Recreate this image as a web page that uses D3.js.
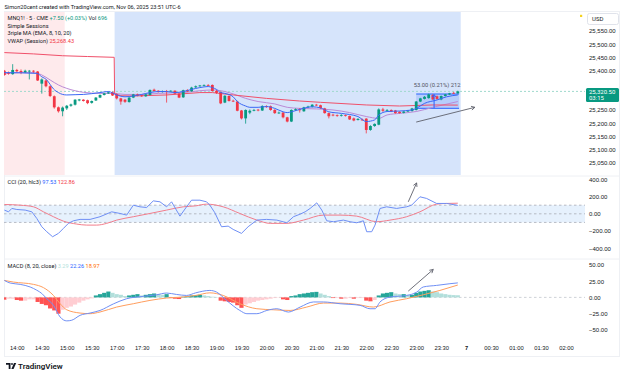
<!DOCTYPE html>
<html>
<head>
<meta charset="utf-8">
<script src="https://cdn.jsdelivr.net/npm/d3@7"></script>
<style>
body { margin: 0; background: #fff; }
svg { display: block; font-family: Roboto, "Liberation Sans", sans-serif; }
</style>
</head>
<body>
<svg id="chart" width="625" height="381"></svg>
<script>
// bar index 0 = 13:45, one bar every 5 minutes, no bars from 16:00 to 16:55
var timeTicks = [3, 9, 15, 21, 27, 33, 39, 45, 51, 57, 63, 69, 75, 81, 87, 93, 99, 105, 111, 117, 123, 129, 135];
var timeLabels = ["14:00", "14:30", "15:00", "15:30", "17:00", "17:30", "18:00", "18:30", "19:00", "19:30", "20:00",
    "20:30", "21:00", "21:30", "22:00", "22:30", "23:00", "23:30", "7", "00:30", "01:00", "01:30", "02:00"];

var open = [25399, 25392, 25386, 25402, 25398, 25393, 25397, 25399, 25396, 25350,
    25362, 25340, 25302, 25260, 25245, 25256, 25266, 25270, 25286, 25289,
    25287, 25277, 25286, 25297, 25307, 25313, 25317, 25309, 25294, 25289,
    25280, 25297, 25309, 25305, 25302, 25307, 25327, 25323, 25318, 25321,
    25320, 25323, 25312, 25298, 25325, 25321, 25336, 25340, 25343, 25345,
    25345, 25322, 25318, 25278, 25303, 25285, 25282, 25248, 25218, 25240,
    25248, 25251, 25248, 25264, 25264, 25250, 25238, 25240, 25222, 25206,
    25250, 25252, 25245, 25260, 25262, 25270, 25268, 25256, 25238, 25232,
    25230, 25228, 25230, 25227, 25218, 25212, 25214, 25217, 25174, 25189,
    25194, 25252, 25248, 25250, 25248, 25243, 25239, 25244, 25246, 25250,
    25282, 25292, 25295, 25307, 25302, 25290, 25303, 25309, 25315, 25313];
var high = [25402, 25396, 25424, 25406, 25404, 25403, 25402, 25401, 25398, 25370,
    25366, 25343, 25305, 25263, 25263, 25269, 25274, 25291, 25292, 25291,
    25289, 25286, 25299, 25309, 25315, 25319, 25320, 25313, 25296, 25292,
    25299, 25311, 25312, 25308, 25311, 25328, 25331, 25325, 25324, 25326,
    25325, 25325, 25314, 25327, 25329, 25338, 25343, 25345, 25347, 25348,
    25347, 25326, 25320, 25306, 25306, 25289, 25285, 25250, 25252, 25252,
    25254, 25254, 25268, 25268, 25267, 25253, 25244, 25242, 25224, 25252,
    25256, 25257, 25262, 25266, 25272, 25273, 25270, 25258, 25240, 25236,
    25233, 25234, 25233, 25229, 25221, 25219, 25218, 25219, 25192, 25199,
    25256, 25258, 25253, 25252, 25250, 25245, 25246, 25250, 25258, 25284,
    25296, 25303, 25312, 25310, 25305, 25305, 25311, 25315, 25319, 25323];
var low = [25380, 25384, 25384, 25393, 25386, 25390, 25366, 25391, 25360, 25312,
    25336, 25299, 25255, 25240, 25226, 25250, 25262, 25267, 25283, 25282,
    25272, 25274, 25284, 25295, 25305, 25311, 25303, 25290, 25270, 25277,
    25278, 25295, 25302, 25300, 25300, 25305, 25320, 25316, 25316, 25278,
    25318, 25310, 25295, 25296, 25318, 25319, 25333, 25338, 25340, 25341,
    25320, 25311, 25272, 25276, 25282, 25280, 25245, 25214, 25198, 25234,
    25245, 25245, 25246, 25258, 25247, 25235, 25235, 25218, 25203, 25204,
    25246, 25240, 25243, 25257, 25259, 25265, 25254, 25236, 25218, 25226,
    25224, 25225, 25225, 25212, 25207, 25210, 25208, 25161, 25171, 25186,
    25192, 25243, 25245, 25242, 25236, 25236, 25237, 25242, 25244, 25248,
    25280, 25290, 25293, 25288, 25289, 25287, 25301, 25307, 25311, 25312];
var close = [25383, 25388, 25402, 25397, 25393, 25399, 25399, 25396, 25362, 25366,
    25340, 25303, 25260, 25245, 25259, 25266, 25271, 25289, 25290, 25284,
    25276, 25284, 25297, 25307, 25313, 25317, 25305, 25294, 25282, 25281,
    25297, 25309, 25304, 25302, 25309, 25326, 25322, 25318, 25322, 25320,
    25323, 25312, 25297, 25325, 25320, 25335, 25340, 25343, 25345, 25343,
    25322, 25315, 25275, 25304, 25284, 25283, 25247, 25218, 25250, 25247,
    25250, 25248, 25265, 25262, 25250, 25238, 25240, 25222, 25206, 25250,
    25253, 25249, 25260, 25263, 25270, 25268, 25257, 25238, 25226, 25230,
    25228, 25231, 25228, 25214, 25210, 25216, 25212, 25174, 25189, 25197,
    25252, 25247, 25250, 25244, 25238, 25238, 25244, 25248, 25256, 25282,
    25294, 25300, 25309, 25290, 25292, 25303, 25309, 25313, 25313, 25320.5];

// overlays as [bar index, value]
var emaFast = [[0, 25392], [7.8, 25389], [9, 25376], [10.2, 25364], [11, 25347], [11.8, 25330], [13, 25316], [14, 25309],
    [15, 25307], [17, 25308], [19, 25309], [21, 25312], [23, 25316], [25, 25320], [27, 25307], [29, 25300], [31, 25303],
    [33, 25309], [35, 25316], [37, 25320], [39, 25320], [41, 25316], [43, 25320], [45, 25328], [47, 25335], [49, 25339],
    [50, 25335], [51, 25328], [52, 25316], [53, 25313], [55, 25300], [56, 25282], [58, 25265], [59, 25260], [61, 25260],
    [63, 25263], [65, 25256], [67, 25243], [68, 25240], [69, 25243], [71, 25252], [74, 25262], [76, 25258], [78, 25243],
    [81, 25237], [85, 25225], [87, 25206], [89, 25212], [90, 25231], [92, 25244], [95, 25246], [98, 25250], [99, 25256],
    [101, 25275], [104, 25288], [106.3, 25300], [109, 25307]];
var emaSlow = [[0, 25387], [3.8, 25392], [7, 25392], [9, 25383], [11, 25364], [13, 25345], [15, 25332], [17, 25323],
    [19, 25317], [23, 25313], [26, 25313], [29, 25309], [33, 25309], [37, 25313], [43, 25316], [47, 25323], [50, 25326],
    [53, 25320], [55, 25311], [58, 25294], [61, 25282], [65, 25273], [68, 25260], [71, 25256], [75, 25254], [79, 25250],
    [83, 25240], [87, 25225], [90, 25218], [92, 25231], [95, 25237], [99, 25244], [103, 25260], [109, 25282]];
var vwap = [[0, 25468], [7, 25463], [14, 25456], [20, 25453], [26.4, 25450], [26.5, 25312], [28, 25304], [31, 25303],
    [39, 25307], [47, 25316], [50, 25316], [55, 25307], [63, 25294], [71, 25284], [76, 25279], [87, 25269],
    [95, 25265], [103, 25269], [109, 25268.43]];

var cci = [[0, 43], [1, 23], [1.8, 62], [3, 50], [5, 43], [6.6, 23], [7.8, -54], [9, -150], [10.2, -208], [11.6, -266],
    [13, -227], [14.2, -169], [15.4, -111], [16.6, -81], [18.2, -65], [20.6, -65], [23, -34], [25.8, 23], [27.8, 4],
    [29.4, -15], [31, 100], [32.6, 81], [34.2, 73], [35.8, 150], [37.4, 139], [39, 81], [40.2, 139], [42.2, -27],
    [43.8, 81], [45, 158], [47, 158], [48.6, 139], [49.4, 100], [50.6, 12], [52.2, -150], [53.8, -143], [55, -181],
    [57, -227], [58.6, -150], [60.7, -73], [63, -65], [65.5, -73], [67.9, -104], [69.5, -34], [71.1, -4], [72.3, 23],
    [73.5, 62], [75.1, 127], [76.3, 43], [77.5, -81], [79.1, -92], [81.5, -73], [83.1, -92], [84.7, -104], [86.3, -81],
    [87.1, -208], [88.3, -208], [89.1, -131], [90.3, 62], [91.9, 81], [94.3, 62], [96.7, 81], [97.9, 100], [99.9, 197],
    [101.5, 178], [103.9, 120], [106.3, 120], [109, 97.53]];
var cciMa = [[0, 108], [3.8, 100], [7, 81], [9.4, 23], [11.8, -34], [14.2, -85], [17.4, -119], [19.8, -131], [22.2, -131],
    [24.6, -111], [27, -73], [31, -34], [35, 4], [39, 43], [43, 81], [46, 92], [48.6, 112], [52.6, 81], [56.6, 4],
    [60.7, -73], [63.9, -111], [67.9, -111], [71.9, -73], [76.7, -15], [80.7, -15], [84.7, -27], [89.5, -92], [92.7, -73],
    [96.7, -34], [99.9, 23], [103.9, 112], [106.3, 120], [109, 122.86]];

var macd = [[0, 26], [1.4, 22], [3.8, 20], [6.2, 16], [7.8, 11], [9, 6], [10.2, -2], [11.8, -12], [13.4, -30], [15, -36],
    [16.2, -35], [18.2, -27.5], [20.6, -24], [23, -20], [26.2, -10], [29.4, -2], [33.4, 1.6], [36.6, 4], [39, 6.7],
    [41.4, 4.5], [43.8, 3], [46, 7], [49.4, 10.7], [51, 8.2], [53.4, -4.6], [56.6, -20], [58.3, -25], [60.7, -25],
    [63.1, -20], [65.5, -17.4], [68.3, -22.5], [71.1, -14.8], [74.3, -7], [76.7, -7], [80.7, -9.7], [85.5, -12.2],
    [87.9, -17.4], [89.1, -17.4], [90.3, -7], [92.7, 0.5], [96.7, 3], [99.1, 8], [100.7, 16], [103.9, 18.4], [107.1, 21],
    [109, 22.26]];
var signal = [[0, 26], [2.2, 23.5], [7, 20], [9.4, 15], [11.8, 3], [13.4, -9.7], [15, -19], [18.2, -24], [20.6, -25],
    [23, -22.4], [27, -14.8], [31, -9.7], [35, -4.6], [39, -1], [43, 0.6], [46, 3], [49.4, 7], [52.6, 3], [56.6, -9.7],
    [60.7, -17.4], [64.7, -19], [68.7, -20], [72.7, -14.8], [76.7, -8.7], [80.7, -8.7], [84.7, -10.7], [88.7, -14.8],
    [92.7, -7], [96.7, -2], [100.7, 4], [104.7, 10.7], [109, 18.97]];
var hist = [-3.5, -2, -2, -4, -5, -5, -3, -3, -7, -10,
    -12, -17, -20, -25, -19, -16, -14, -11, -8, -5,
    -3, -1.5, 3, 5, 7, 9, 7, 5, 4, 2,
    3, 4, 5, 3, 4, 5, 6, 5, 4, 5,
    -1, -2, -2.5, 1, 2, 3, 3.5, 4, 3, 2,
    1, 0.5, -5, -6, -7, -8, -12, -16, -11, -9,
    -7, -5, -4, -3, -2, -1, -0.5, -3, -4, 2,
    3, 5, 6, 7, 8, 8.5, 6, 4, 2, -1,
    -1, -2, -2, -1, -2, -1, -1, -5, -6, -4,
    3, 6, 7, 8, 6, 5, 5, 4, 4, 7,
    9, 10, 11, 9, 8, 6, 5, 4, 3.5, 3.29];

var priceTicks = [25050, 25100, 25150, 25200, 25250, 25300, 25350, 25400, 25450, 25500, 25550];
var cciTicks = [-400, -200, 0, 200, 400];
var macdTicks = [-50, -25, 0, 25, 50];

// sessions as [first bar edge, last bar edge]
var sessions = [[-0.5, 14.5, "#feeaec"], [26.5, 109.7, "#d6e4fb"]];

// drawings: price range box and the three arrows
var rangeBox = { from: 99, to: 109.3, lo: 25256.3, hi: 25310.6, mid: 103.3 };
var priceArrow = [[99, 25204], [113.1, 25260]];
var cciArrow = [[97.1, 139], [99.1, 358]];
var macdArrow = [[97.1, 9.7], [103.1, 42.9]];

var lastPrice = 25320.5;

var svg = d3.select("svg#chart"),
    up = "#089981",
    down = "#F23645",
    left = 4, right = 585;

var x = d3.scaleLinear().domain([0, 135]).range([4.36, 4.36 + 135 * 4.16]);
var y = d3.scaleLinear().domain([25050, 25550]).range([162.6, 31]);
var yCci = d3.scaleLinear().domain([-400, 400]).range([248.3, 179.3]);
var yMacd = d3.scaleLinear().domain([-50, 50]).range([330, 264.8]);

svg.append("defs").append("clipPath").attr("id", "clip")
    .append("rect").attr("x", left).attr("y", 0).attr("width", right - left).attr("height", 381);

// frame and header
svg.append("rect").attr("x", 4.5).attr("y", 11.5).attr("width", 615).attr("height", 345)
    .attr("fill", "none").attr("stroke", "#eef0f4");
[176, 259].forEach(function (v) {
    svg.append("line").attr("x1", 4).attr("x2", 620).attr("y1", v).attr("y2", v).attr("stroke", "#eef0f4");
});
svg.append("text").attr("x", 4.5).attr("y", 9).style("font-size", "5.6px").attr("fill", "#131722")
    .text("Simon20cent created with TradingView.com, Nov 06, 2025 23:51 UTC-6");

var plot = svg.append("g").attr("clip-path", "url(#clip)");

// session backgrounds
plot.selectAll(".session").data(sessions).enter().append("rect")
    .attr("x", function (d) { return x(d[0]); })
    .attr("width", function (d) { return x(d[1]) - x(d[0]); })
    .attr("y", 12).attr("height", 163)
    .attr("fill", function (d) { return d[2]; });

// price range box
plot.append("rect")
    .attr("x", x(rangeBox.from)).attr("width", x(rangeBox.to) - x(rangeBox.from))
    .attr("y", y(rangeBox.hi)).attr("height", y(rangeBox.lo) - y(rangeBox.hi))
    .attr("fill", "rgba(41,98,255,0.18)");
[rangeBox.lo, rangeBox.hi].forEach(function (v) {
    plot.append("line").attr("x1", x(rangeBox.from)).attr("x2", x(rangeBox.to))
        .attr("y1", y(v)).attr("y2", y(v)).attr("stroke", "#2962FF").attr("stroke-width", 1);
});

// last price line
plot.append("line").attr("x1", left).attr("x2", right).attr("y1", y(lastPrice)).attr("y2", y(lastPrice))
    .attr("stroke", "#9fd9cd").attr("stroke-dasharray", "2,2");

var bars = close.map(function (c, i) { return { i: i, o: open[i], h: high[i], l: low[i], c: c }; });

var lineFor = function (ys, curve) {
    return d3.line().x(function (d) { return x(d[0]); }).y(function (d) { return ys(d[1]); }).curve(curve || d3.curveMonotoneX);
};

plot.append("path").datum(emaSlow).attr("d", lineFor(y)).attr("fill", "none").attr("stroke", "#bb8ad6").attr("stroke-width", 1);
plot.append("path").datum(vwap).attr("d", lineFor(y, d3.curveLinear)).attr("fill", "none").attr("stroke", "#f0506a").attr("stroke-width", 1);

plot.selectAll(".wick").data(bars).enter().append("line")
    .attr("x1", function (d) { return x(d.i); })
    .attr("x2", function (d) { return x(d.i); })
    .attr("y1", function (d) { return y(d.h); })
    .attr("y2", function (d) { return y(d.l); })
    .attr("stroke", function (d) { return d.c >= d.o ? up : down; })
    .attr("stroke-width", 0.8);

plot.selectAll(".body").data(bars).enter().append("rect")
    .attr("x", function (d) { return x(d.i) - 1.4; })
    .attr("width", 2.8)
    .attr("y", function (d) { return y(Math.max(d.o, d.c)); })
    .attr("height", function (d) { return Math.max(0.8, Math.abs(y(d.o) - y(d.c))); })
    .attr("fill", function (d) { return d.c >= d.o ? up : down; });

plot.append("path").datum(emaFast).attr("d", lineFor(y)).attr("fill", "none").attr("stroke", "#3a67f5").attr("stroke-width", 1);

// range arrow and label
plot.append("line").attr("x1", x(rangeBox.mid)).attr("x2", x(rangeBox.mid))
    .attr("y1", y(rangeBox.lo)).attr("y2", y(rangeBox.hi) + 1).attr("stroke", "#2962FF");
plot.append("path")
    .attr("d", "M" + (x(rangeBox.mid) - 2) + "," + (y(rangeBox.hi) + 3) + "L" + x(rangeBox.mid) + "," + (y(rangeBox.hi) + 0.5) +
        "L" + (x(rangeBox.mid) + 2) + "," + (y(rangeBox.hi) + 3))
    .attr("fill", "none").attr("stroke", "#2962FF");
svg.append("text").attr("x", x(rangeBox.mid) + 3).attr("y", y(rangeBox.hi) - 7)
    .attr("text-anchor", "middle").style("font-size", "5.8px").attr("fill", "#50535e")
    .text("53.00 (0.21%) 212");

function arrow(g, pts, ys) {
    var x1 = x(pts[0][0]), y1 = ys(pts[0][1]), x2 = x(pts[1][0]), y2 = ys(pts[1][1]);
    var a = Math.atan2(y2 - y1, x2 - x1), s = 4;
    g.append("line").attr("x1", x1).attr("y1", y1).attr("x2", x2).attr("y2", y2).attr("stroke", "#5d606b").attr("stroke-width", 0.9);
    g.append("path")
        .attr("d", "M" + (x2 - s * Math.cos(a - 0.5)) + "," + (y2 - s * Math.sin(a - 0.5)) + "L" + x2 + "," + y2 +
            "L" + (x2 - s * Math.cos(a + 0.5)) + "," + (y2 - s * Math.sin(a + 0.5)))
        .attr("fill", "none").attr("stroke", "#5d606b").attr("stroke-width", 0.9);
}
arrow(plot, priceArrow, y);

// CCI pane
plot.append("rect").attr("x", left).attr("width", right - left)
    .attr("y", yCci(100)).attr("height", yCci(-100) - yCci(100)).attr("fill", "#e6f1fd");
[100, 0, -100].forEach(function (v) {
    plot.append("line").attr("x1", left).attr("x2", right).attr("y1", yCci(v)).attr("y2", yCci(v))
        .attr("stroke", "#a9acb6").attr("stroke-dasharray", "2.5,2.5").attr("stroke-width", 0.8);
});
plot.append("path").datum(cciMa).attr("d", lineFor(yCci)).attr("fill", "none").attr("stroke", "#f27d8c").attr("stroke-width", 1);
plot.append("path").datum(cci).attr("d", lineFor(yCci, d3.curveLinear)).attr("fill", "none").attr("stroke", "#6f8ff5").attr("stroke-width", 1);
arrow(plot, cciArrow, yCci);

// MACD pane
plot.append("line").attr("x1", left).attr("x2", right).attr("y1", yMacd(0)).attr("y2", yMacd(0))
    .attr("stroke", "#c3c6ce").attr("stroke-dasharray", "2.5,2.5").attr("stroke-width", 0.8);
plot.selectAll(".hist").data(hist).enter().append("rect")
    .attr("x", function (d, i) { return x(i) - 2.08; })
    .attr("width", 4.16)
    .attr("y", function (d) { return yMacd(Math.max(0, d)); })
    .attr("height", function (d) { return Math.abs(yMacd(d) - yMacd(0)); })
    .attr("fill", function (d, i) {
        var prev = i > 0 ? hist[i - 1] : d + 1;
        if (d >= 0) return d >= prev ? "#26a69a" : "#b2dfdb";
        return d < prev ? "#ff5252" : "#ffcdd2";
    });
plot.append("path").datum(signal).attr("d", lineFor(yMacd)).attr("fill", "none").attr("stroke", "#ff9e5e").attr("stroke-width", 1);
plot.append("path").datum(macd).attr("d", lineFor(yMacd)).attr("fill", "none").attr("stroke", "#6f8ff5").attr("stroke-width", 1);
arrow(plot, macdArrow, yMacd);

// axes on the right
function rightAxis(scale, ticks, fmt) {
    var g = svg.append("g").attr("transform", "translate(589,0)")
        .call(d3.axisRight(scale).tickValues(ticks).tickSize(0).tickPadding(0).tickFormat(fmt));
    g.select(".domain").remove();
    g.selectAll("text").style("font-size", "6px").attr("fill", "#131722").attr("font-family", null);
    return g;
}
var minusFmt = function (v) { return d3.format(",.2f")(v).replace("-", "\u2212"); };
// the last price tag covers the tick next to it
rightAxis(y, priceTicks.filter(function (v) { return Math.abs(y(v) - y(lastPrice)) > 8; }), minusFmt);
rightAxis(yCci, cciTicks, minusFmt);
rightAxis(yMacd, macdTicks, minusFmt);

// time axis
var tx = svg.append("g").attr("transform", "translate(0,346)")
    .call(d3.axisBottom(x).tickValues(timeTicks).tickSize(0).tickPadding(0)
        .tickFormat(function (d, i) { return timeLabels[i]; }));
tx.select(".domain").remove();
tx.selectAll("text").style("font-size", "5.8px").attr("fill", "#131722").attr("font-family", null)
    .style("font-weight", function (d, i) { return timeLabels[i] === "7" ? "bold" : "normal"; });

// last price tag
svg.append("rect").attr("x", 586).attr("y", y(lastPrice) - 3.5).attr("width", 33).attr("height", 14)
    .attr("rx", 1.5).attr("fill", up);
svg.append("text").attr("x", 589).attr("y", y(lastPrice) + 2.4).style("font-size", "6px").attr("fill", "#fff").text("25,320.50");
svg.append("text").attr("x", 589).attr("y", y(lastPrice) + 8.6).style("font-size", "6px").attr("fill", "#fff").text("03:15");

// USD box and status dot
svg.append("rect").attr("x", 587.5).attr("y", 13.5).attr("width", 31).attr("height", 11).attr("rx", 2)
    .attr("fill", "#fff").attr("stroke", "#e0e3eb");
svg.append("text").attr("x", 592).attr("y", 21).style("font-size", "6px").attr("fill", "#131722").text("USD");
svg.append("rect").attr("x", 580).attr("y", 14.8).attr("width", 2.2).attr("height", 2.2).attr("fill", "#f5d31f");

// legends
function legend(yPos, parts) {
    var t = svg.append("text").attr("x", 7.5).attr("y", yPos).style("font-size", "5.6px");
    parts.forEach(function (p) {
        t.append("tspan").attr("fill", p[1]).text(p[0]);
    });
}
legend(20.3, [["MNQ1! \u00b7 5 \u00b7 CME ", "#131722"], ["+7.50 (+0.03%) ", up], [" Vol ", "#131722"], ["696", up]]);
legend(27.8, [["Simple Sessions", "#131722"]]);
legend(35.3, [["3riple MA (EMA, 8, 10, 20)", "#131722"]]);
legend(42.8, [["VWAP (Session) ", "#131722"], ["25,268.43", "#F23645"]]);
legend(183.7, [["CCI (20, hlc3) ", "#131722"], [" 97.53 ", "#2962FF"], [" 122.86", "#F23645"]]);
legend(267.7, [["MACD (8, 20, close) ", "#131722"], [" 3.29 ", "#b2dfdb"], [" 22.26 ", "#2962FF"], [" 18.97", "#FF6D00"]]);

// TradingView logo
var logo = svg.append("g").attr("transform", "translate(6,363)").attr("fill", "#131722");
logo.append("path").attr("d", "M0,0H4.5V6H2.7V1.8H0Z");
logo.append("circle").attr("cx", 6).attr("cy", 1).attr("r", 0.9);
logo.append("path").attr("d", "M8,0H10.2L7.6,6H5.4Z");
svg.append("text").attr("x", 18).attr("y", 369).style("font-size", "8px").style("font-weight", "600")
    .attr("fill", "#131722").text("TradingView");
</script>
</body>
</html>
